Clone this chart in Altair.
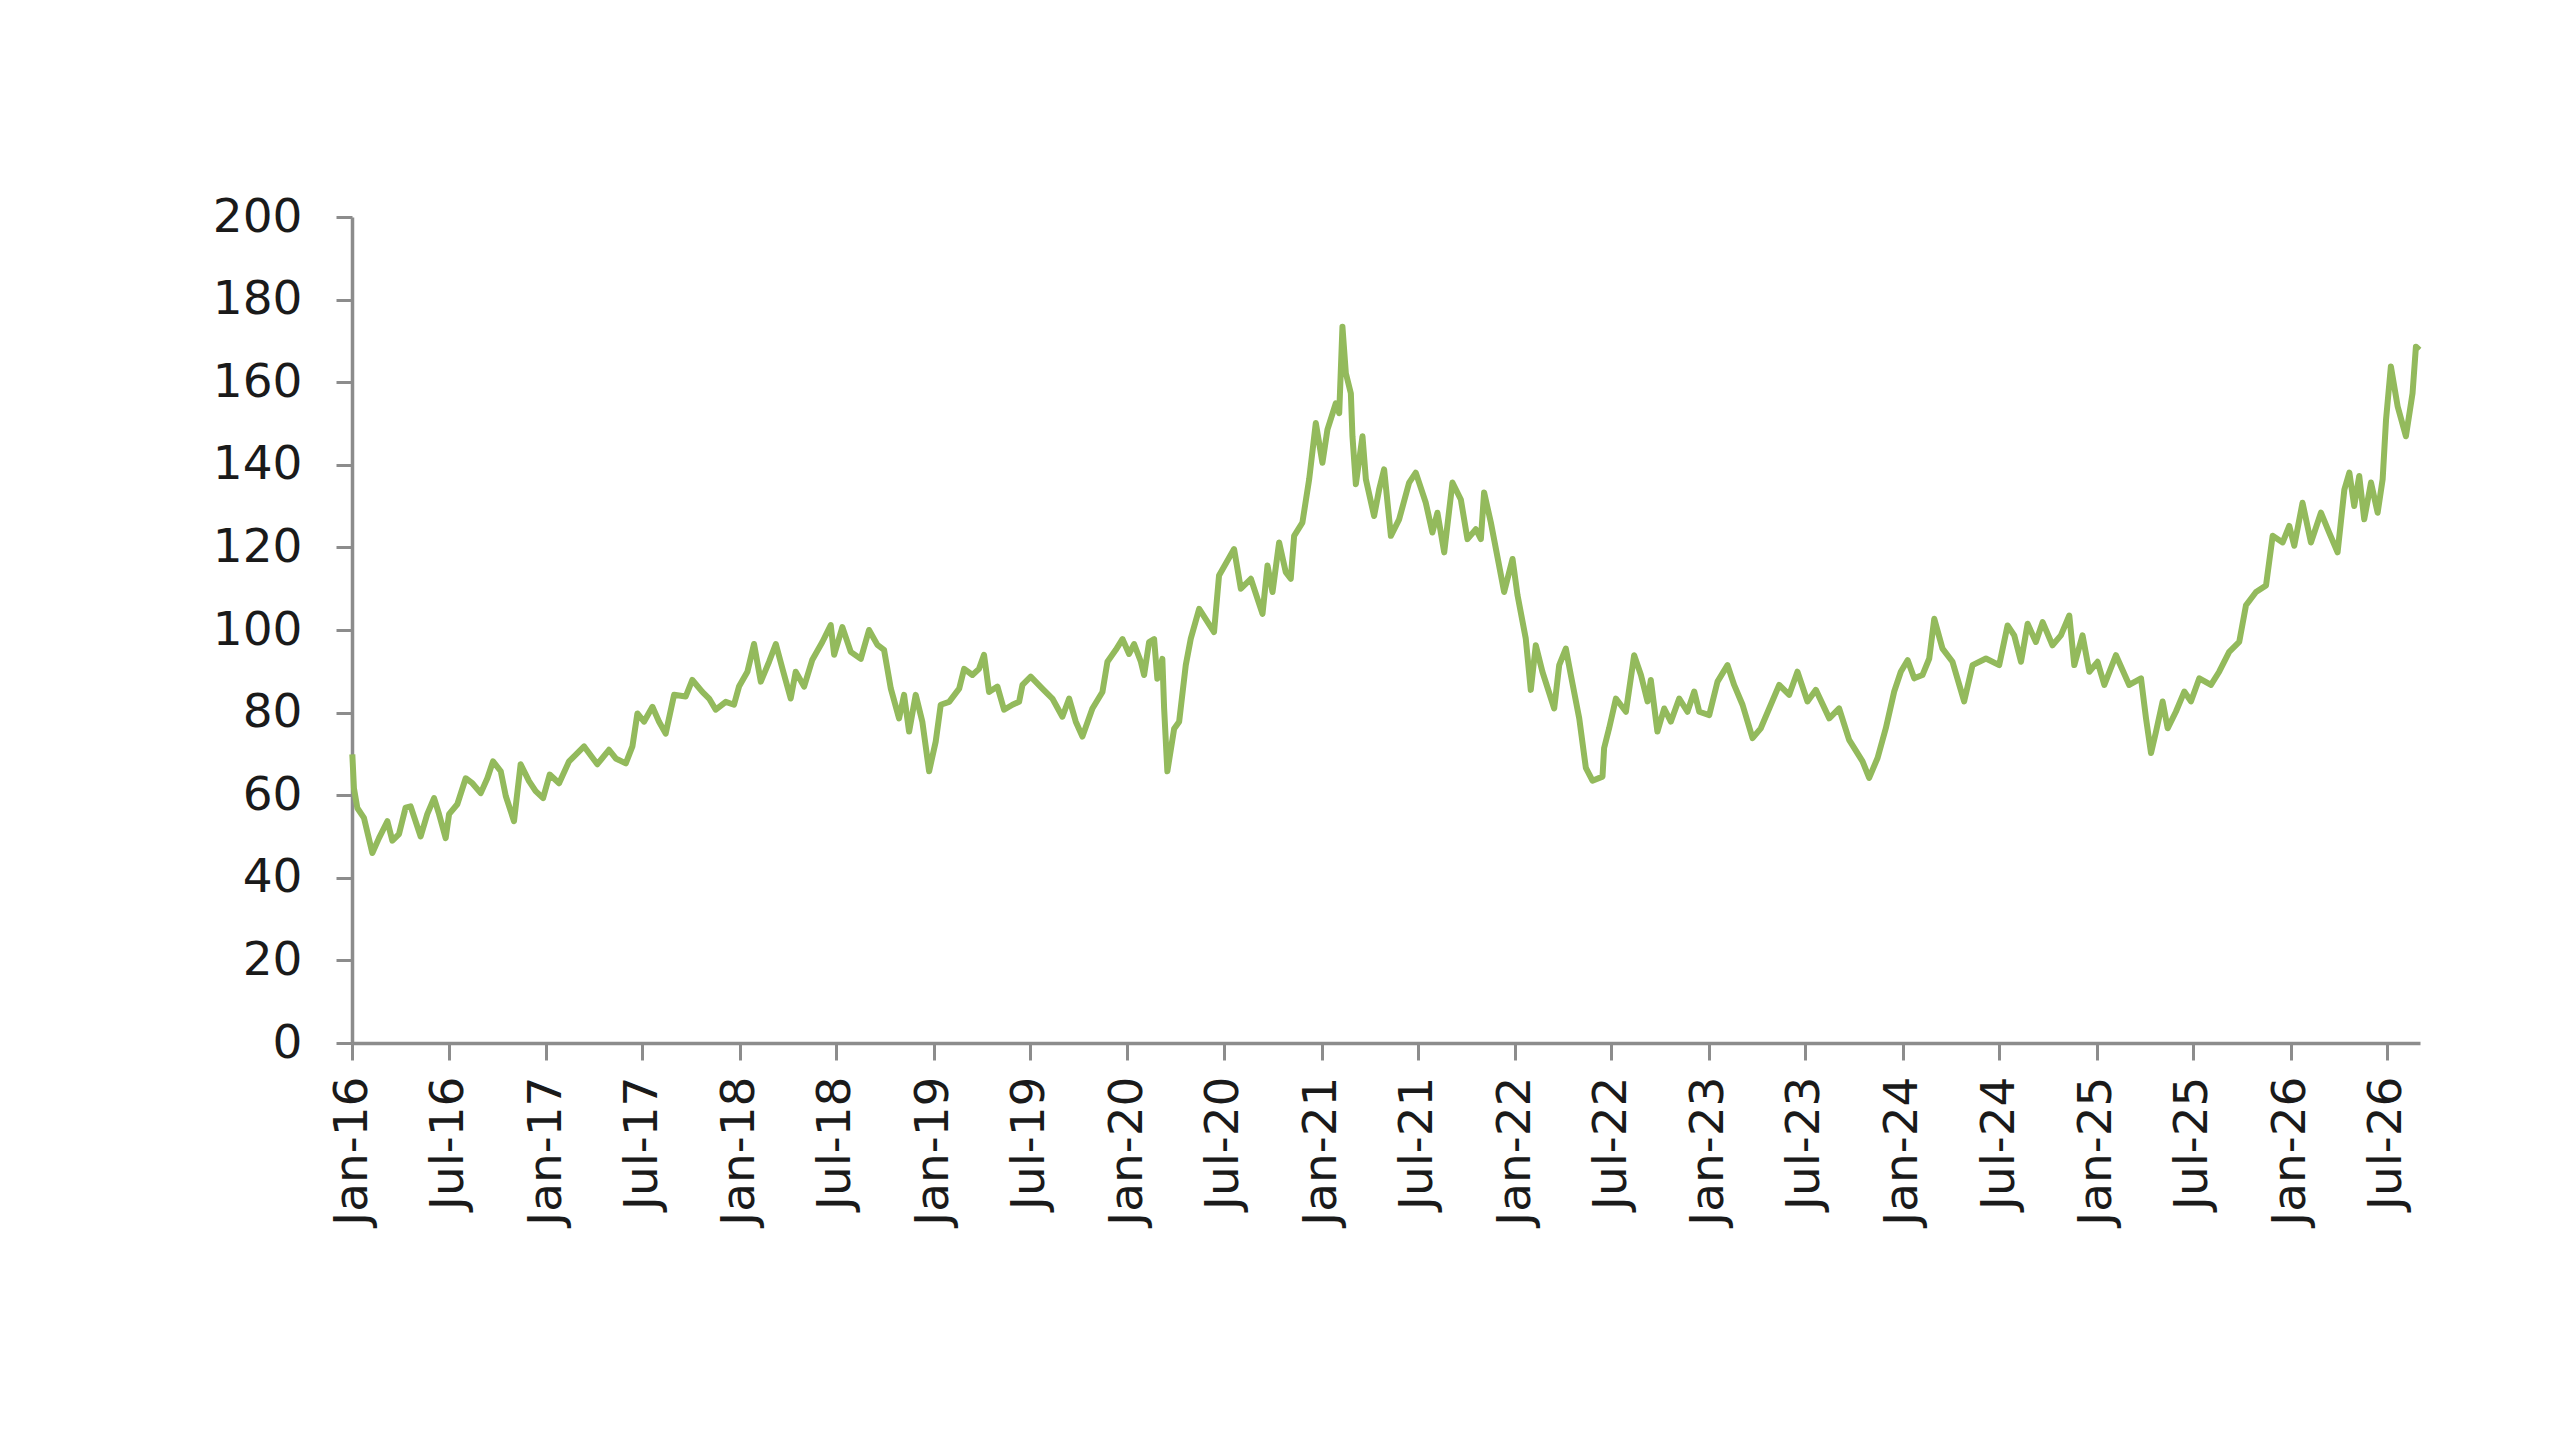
import altair as alt
import pandas as pd
import numpy as np

# Months elapsed since Jan 2016 and index values
months = [
    0.02, 0.12, 0.33, 0.74, 1.26, 1.67, 2.19, 2.50, 2.91, 3.32, 3.63, 4.25, 4.66, 5.08, 5.39, 5.80,
    6.01, 6.52, 7.04, 7.45, 7.97, 8.38, 8.73, 9.21, 9.52, 10.03, 10.44, 10.96, 11.37, 11.83,
    12.24, 12.82, 13.44, 14.37, 15.19, 15.91, 16.33, 16.95, 17.36, 17.67, 18.08, 18.60, 19.01,
    19.42, 19.94, 20.66, 21.07, 21.69, 22.11, 22.52, 23.14, 23.65, 23.96, 24.48, 24.89, 25.31,
    25.82, 26.24, 26.65, 27.16, 27.47, 27.99, 28.50, 29.12, 29.64, 29.85, 30.36, 30.88, 31.50,
    32.01, 32.53, 32.94, 33.36, 33.87, 34.18, 34.49, 34.90, 35.31, 35.73, 36.14, 36.45, 36.97,
    37.59, 37.90, 38.41, 38.82, 39.13, 39.44, 39.96, 40.37, 40.89, 41.30, 41.51, 42.02, 42.74,
    43.36, 43.98, 44.40, 44.81, 45.22, 45.84, 46.46, 46.77, 47.29, 47.70, 48.11, 48.42, 48.84,
    49.04, 49.35, 49.66, 49.86, 50.17, 50.28, 50.48, 50.90, 51.21, 51.62, 51.93, 52.45, 53.37,
    53.68, 54.61, 55.03, 55.65, 56.37, 56.68, 56.99, 57.40, 57.81, 58.12, 58.33, 58.84, 59.26,
    59.67, 60.08, 60.39, 60.91, 61.12, 61.32, 61.53, 61.84, 61.94, 62.15, 62.56, 62.77, 63.28,
    63.59, 63.90, 64.32, 64.83, 65.45, 65.86, 66.48, 66.89, 67.20, 67.62, 68.13, 68.65, 69.06,
    69.58, 69.89, 70.09, 70.51, 71.02, 71.33, 71.85, 72.16, 72.67, 72.98, 73.29, 73.70, 74.43,
    74.74, 75.15, 75.46, 75.98, 76.39, 76.80, 77.42, 77.52, 77.83, 78.25, 78.87, 79.38, 79.80,
    80.21, 80.41, 80.82, 81.24, 81.65, 82.17, 82.68, 83.10, 83.41, 84.03, 84.54, 85.16, 85.57,
    86.09, 86.71, 87.22, 87.74, 88.36, 88.98, 89.49, 90.11, 90.63, 91.46, 92.07, 92.69, 93.52,
    93.93, 94.45, 94.96, 95.48, 95.89, 96.31, 96.72, 97.23, 97.65, 97.96, 98.47, 99.09, 99.81,
    100.33, 101.16, 101.98, 102.50, 102.91, 103.33, 103.74, 104.25, 104.67, 105.28, 105.80,
    106.32, 106.63, 107.14, 107.56, 108.07, 108.49, 109.21, 110.03, 110.76, 111.07, 111.38,
    111.69, 112.10, 112.41, 112.92, 113.44, 113.85, 114.37, 115.09, 115.60, 116.22, 116.84,
    117.26, 117.88, 118.50, 118.91, 119.53, 119.94, 120.25, 120.76, 121.28, 121.90, 122.41,
    122.93, 123.35, 123.66, 123.96, 124.27, 124.58, 125.00, 125.41, 125.72, 125.93, 126.23,
    126.65, 127.16, 127.57, 127.78, 127.99,
]
values = [
    69.9, 61.7, 56.9, 54.5, 46.0, 49.6, 53.7, 49.0, 50.6, 57.0, 57.3, 50.0, 55.4, 59.3, 55.4, 49.6,
    55.4, 57.8, 64.1, 62.9, 60.5, 64.1, 68.2, 65.8, 59.8, 53.7, 67.5, 63.4, 61.0, 59.3,
    65.0, 62.9, 68.2, 71.8, 67.5, 71.0, 68.9, 67.7, 71.8, 79.8, 77.8, 81.4, 77.8,
    74.9, 84.3, 83.9, 87.9, 85.0, 83.4, 80.7, 82.6, 81.9, 86.3, 89.9, 96.6, 87.5,
    92.3, 96.6, 90.6, 83.4, 89.9, 86.3, 92.8, 97.1, 101.2, 94.0, 100.7, 94.7, 93.0,
    100.0, 96.4, 95.2, 85.8, 78.6, 84.3, 75.4, 84.3, 77.8, 65.8, 73.0, 81.9, 82.6,
    85.8, 90.6, 89.1, 90.6, 94.0, 85.0, 86.3, 80.7, 81.9, 82.6, 86.7, 88.7, 85.8,
    83.4, 79.0, 83.4, 77.8, 74.2, 81.0, 85.0, 92.3, 95.2, 97.8, 94.2, 96.6, 92.3,
    89.1, 97.1, 97.8, 88.2, 93.0, 81.0, 65.8, 76.1, 77.8, 91.5, 97.9, 105.1, 99.5,
    113.2, 119.6, 110.0, 112.4, 103.9, 115.6, 109.2, 121.2, 114.0, 112.4, 122.8, 126.0, 136.5,
    150.1, 140.5, 148.5, 154.9, 152.5, 173.4, 162.2, 157.3, 146.9, 135.3, 146.9, 136.5, 127.6,
    134.0, 138.9, 122.8, 126.8, 135.7, 138.1, 130.8, 123.6, 128.4, 118.8, 135.7, 131.6, 122.0,
    124.4, 122.0, 133.3, 126.0, 115.6, 109.2, 117.2, 108.4, 97.9, 85.5, 96.3, 89.9, 81.0,
    91.5, 95.5, 89.1, 78.6, 66.6, 63.5, 64.5, 71.4, 76.2, 83.4, 80.2, 93.9, 89.1,
    82.7, 87.9, 75.4, 81.0, 77.8, 83.4, 80.2, 85.1, 80.2, 79.4, 87.5, 91.5, 86.7,
    81.9, 73.8, 76.2, 81.0, 86.7, 84.3, 89.9, 82.7, 85.5, 78.6, 81.0, 73.4, 68.2,
    64.2, 69.0, 76.2, 85.1, 89.9, 92.7, 88.3, 89.1, 93.1, 102.7, 95.5, 92.3, 82.7,
    91.5, 93.1, 91.5, 101.1, 98.7, 92.3, 101.5, 97.1, 101.9, 96.3, 98.7,
    103.5, 91.5, 98.7, 89.9, 92.3, 86.7, 93.9, 86.7, 88.3, 78.6, 70.2,
    75.4, 82.7, 76.2, 80.2, 85.1, 82.7, 88.3, 86.7, 89.9, 94.7, 97.1,
    106.0, 109.2, 110.8, 122.8, 121.2, 125.2, 120.4, 130.8, 121.2, 128.4, 123.6,
    118.8, 134.0, 138.1, 130.0, 137.3, 126.8, 135.7, 128.4, 136.5, 150.9, 163.8,
    154.1, 146.9, 157.3, 168.6, 167.8,
]

y_ticks = [0, 20, 40, 60, 80, 100, 120, 140, 160, 180, 200]
tick_years = list(range(2016, 2027))
tick_months = [1, 7]

base = pd.Timestamp("2016-01-01")
dates = base + pd.to_timedelta(np.array(months) * 30.4375, unit="D")
df = pd.DataFrame({
    "date": [d.strftime("%Y-%m-%dT%H:%M:%S") for d in dates],
    "value": values,
})

x_tick_values = [alt.DateTime(year=y, month=m, date=1) for y in tick_years for m in tick_months]

axis_common = dict(
    labelFont="DejaVu Sans",
    labelFontSize=47,
    labelColor="#1a1a1a",
    domainColor="#8c8c8c",
    domainWidth=3.5,
    tickColor="#8c8c8c",
    tickWidth=3,
    grid=False,
    title=None,
)

chart = alt.Chart(df).mark_line(color="#93ba5c", strokeWidth=6, strokeJoin="round").encode(
    x=alt.X(
        "date:T",
        scale=alt.Scale(
            domain=[alt.DateTime(year=2016, month=1, date=1), alt.DateTime(year=2026, month=9, date=2)],
            nice=False,
        ),
        axis=alt.Axis(
            values=x_tick_values,
            format="%b-%y",
            labelAngle=270,
            labelAlign="right",
            labelBaseline="middle",
            tickSize=17,
            labelPadding=16,
            labelOverlap=False,
            **axis_common,
        ),
    ),
    y=alt.Y(
        "value:Q",
        scale=alt.Scale(domain=[0, 200], nice=False),
        axis=alt.Axis(
            values=y_ticks,
            tickSize=16,
            labelPadding=34,
            **axis_common,
        ),
    ),
).properties(
    width=2068,
    height=826,
    padding={"left": 344, "top": 209, "right": 140, "bottom": 300},
    autosize=alt.AutoSizeParams(type="none"),
    background="white",
).configure_view(stroke=None)

chart.save("out.html", embed_options={"renderer": "svg", "actions": False})
